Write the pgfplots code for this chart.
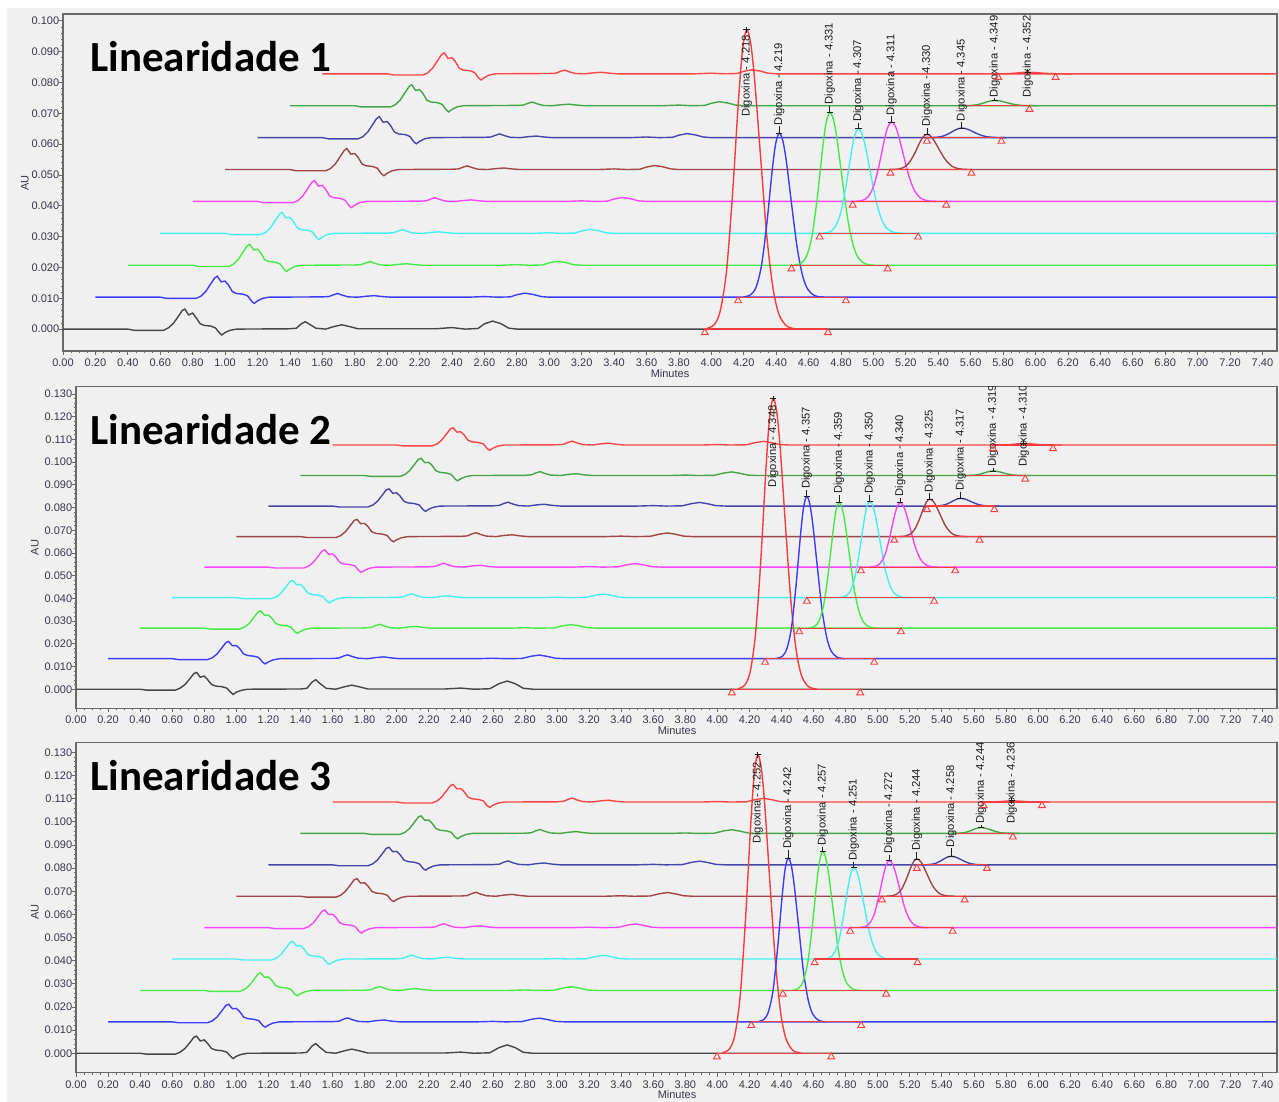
\documentclass[border=0pt]{standalone}
\usepackage{pgfplots}
\pgfplotsset{compat=1.18}
\usepackage{pgfplotstable}
\usepackage{fontspec}
\setmainfont{Liberation Sans}
\newfontfamily\titlefont{Carlito}
\definecolor{bg}{RGB}{240,240,240}
\definecolor{axc}{RGB}{105,105,105}
\definecolor{tickc}{RGB}{55,55,75}
\definecolor{labc}{RGB}{30,30,30}
\definecolor{c0}{RGB}{70,70,70}
\definecolor{c1}{RGB}{60,60,250}
\definecolor{c2}{RGB}{70,235,70}
\definecolor{c3}{RGB}{70,240,240}
\definecolor{c4}{RGB}{250,70,250}
\definecolor{c5}{RGB}{160,70,70}
\definecolor{c6}{RGB}{70,70,170}
\definecolor{c7}{RGB}{70,165,70}
\definecolor{c8}{RGB}{250,70,70}
\definecolor{cr}{RGB}{250,60,60}
\newcommand\tickfont{\fontsize{5.5}{6}\selectfont}
\newcommand\labfont{\fontsize{5.6}{6}\selectfont}

% baseline shapes (relative time, AU)
\pgfplotstableread{
t b0 b1
0.00 0 0
0.40 0 0
0.44 -0.0004 -0.0004
0.62 -0.0004 -0.0004
0.65 0.0004 0.0003
0.68 0.0018 0.0018
0.71 0.0040 0.0042
0.735 0.0060 0.0062
0.752 0.0065 0.0068
0.775 0.0046 0.0050
0.80 0.0052 0.0052
0.82 0.0038 0.0040
0.845 0.0018 0.0018
0.87 0.0012 0.0012
0.91 0.0010 0.0010
0.94 0.0004 0.0004
0.965 -0.0012 -0.0014
0.98 -0.0019 -0.0020
1.00 -0.0011 -0.0012
1.03 -0.0004 -0.0004
1.07 0 0
1.40 0.0001 0.0001
1.44 0.0003 0.0002
1.47 0.0017 0.0008
1.495 0.0024 0.0012
1.52 0.0016 0.0007
1.56 0.0003 0.0001
1.62 0 0
1.67 0.0008 0.0003
1.72 0.0014 0.0005
1.77 0.0008 0.0002
1.82 0.0001 0
2.30 0.0001 0
2.40 0.0005 0.0002
2.48 0 0
2.56 0.0002 0.0001
2.60 0.0017 0.0008
2.65 0.0026 0.0013
2.70 0.0018 0.0009
2.75 0.0003 0.0002
2.80 0 0
7.50 0 0
}\baseA
\pgfplotstableread{
t b0 b1
0.00 0 0
0.40 0 0
0.44 -0.0004 -0.0004
0.62 -0.0004 -0.0004
0.65 0.0005 0.0004
0.68 0.0021 0.0021
0.71 0.0046 0.0048
0.735 0.0069 0.0071
0.752 0.0074 0.0076
0.775 0.0053 0.0057
0.80 0.0058 0.0058
0.82 0.0043 0.0045
0.845 0.0021 0.0021
0.87 0.0014 0.0014
0.91 0.0011 0.0011
0.94 0.0005 0.0005
0.965 -0.0014 -0.0016
0.98 -0.0023 -0.0023
1.00 -0.0013 -0.0014
1.03 -0.0005 -0.0005
1.07 0 0
1.40 0.0001 0.0001
1.44 0.0004 0.0003
1.47 0.0030 0.0012
1.495 0.0042 0.0017
1.52 0.0026 0.0010
1.56 0.0004 0.0002
1.62 0 0
1.67 0.0010 0.0005
1.72 0.0018 0.0008
1.77 0.0010 0.0003
1.82 0.0001 0
2.30 0.0001 0
2.40 0.0005 0.0002
2.48 0 0
2.58 0.0002 0.0001
2.64 0.0025 0.0011
2.69 0.0036 0.0016
2.74 0.0024 0.0010
2.79 0.0004 0.0002
2.85 0 0
7.50 0 0
}\baseB

% Digoxina peaks: offset from apex (d0 for trace 0, d for others), height above baseline
\pgfplotstableread{
d0 d p0 p1 p2 p3 p4 p5 p6 p7 p8
-0.25 -0.22 0.0001 0.00005 0.00005 0.00003 0.00003 0.00001 0 0 0
-0.20 -0.176 0.00146 0.0008 0.00074 0.00051 0.00039 0.00017 0.00005 0.00003 0.00001
-0.163 -0.143 0.00592 0.00325 0.00303 0.00207 0.00157 0.0007 0.00019 0.0001 0.00003
-0.125 -0.11 0.01855 0.01016 0.00947 0.00647 0.00493 0.00218 0.00059 0.00032 0.0001
-0.088 -0.077 0.04321 0.02367 0.02207 0.01509 0.01148 0.00507 0.00138 0.00076 0.00022
-0.05 -0.044 0.07457 0.04086 0.03809 0.02604 0.01981 0.00876 0.00238 0.00131 0.00038
-0.025 -0.022 0.09089 0.0498 0.04643 0.03173 0.02415 0.01067 0.0029 0.00159 0.00047
0 0 0.0971 0.0532 0.0496 0.0339 0.0258 0.0114 0.0031 0.0017 0.0005
0.025 0.022 0.09263 0.05075 0.04732 0.03234 0.02461 0.01088 0.00296 0.00162 0.00048
0.05 0.044 0.0803 0.044 0.04102 0.02804 0.02134 0.00943 0.00256 0.00141 0.00041
0.088 0.077 0.05438 0.02979 0.02778 0.01898 0.01445 0.00638 0.00174 0.00095 0.00028
0.125 0.11 0.02971 0.01628 0.01518 0.01037 0.00789 0.00349 0.00095 0.00052 0.00015
0.163 0.143 0.01311 0.00718 0.0067 0.00458 0.00348 0.00154 0.00042 0.00023 0.00007
0.20 0.176 0.00466 0.00255 0.00238 0.00163 0.00124 0.00055 0.00015 0.00008 0.00002
0.25 0.22 0.00087 0.00048 0.00045 0.00031 0.00023 0.0001 0.00003 0.00002 0
0.313 0.275 0 0 0 0 0 0 0 0 0
}\pkA
\pgfplotstableread{
d0 d p0 p1 p2 p3 p4 p5 p6 p7 p8
-0.22 -0.19 0.00013 0.00007 0.00006 0.00004 0.00003 0.00002 0 0 0
-0.176 -0.152 0.00192 0.00107 0.00083 0.00064 0.00043 0.00025 0.00005 0.00003 0.00001
-0.143 -0.124 0.00781 0.00436 0.00337 0.00259 0.00173 0.00101 0.00021 0.00012 0.00004
-0.11 -0.095 0.02445 0.01366 0.01056 0.00812 0.00542 0.00315 0.00065 0.00038 0.00013
-0.077 -0.067 0.05696 0.03182 0.02461 0.01891 0.01264 0.00734 0.00151 0.00089 0.00031
-0.044 -0.038 0.0983 0.05491 0.04247 0.03264 0.02181 0.01267 0.00261 0.00154 0.00054
-0.022 -0.019 0.11981 0.06692 0.05176 0.03978 0.02658 0.01544 0.00318 0.00187 0.00066
0 0 0.128 0.0715 0.0553 0.0425 0.0284 0.0165 0.0034 0.002 0.0007
0.022 0.019 0.12211 0.06821 0.05276 0.04055 0.02709 0.01574 0.00324 0.00191 0.00067
0.044 0.038 0.10586 0.05913 0.04573 0.03515 0.02349 0.01365 0.00281 0.00165 0.00058
0.077 0.067 0.07168 0.04004 0.03097 0.0238 0.0159 0.00924 0.0019 0.00112 0.00039
0.11 0.095 0.03917 0.02188 0.01692 0.01301 0.00869 0.00505 0.00104 0.00061 0.00021
0.143 0.124 0.01728 0.00965 0.00747 0.00574 0.00383 0.00223 0.00046 0.00027 0.00009
0.176 0.152 0.00614 0.00343 0.00265 0.00204 0.00136 0.00079 0.00016 0.0001 0.00003
0.22 0.19 0.00115 0.00064 0.0005 0.00038 0.00026 0.00015 0.00003 0.00002 0.00001
0.275 0.238 0 0 0 0 0 0 0 0 0
}\pkB
\pgfplotstableread{
d0 d p0 p1 p2 p3 p4 p5 p6 p7 p8
-0.22 -0.19 0.00013 0.00007 0.00006 0.00004 0.00003 0.00002 0 0 0
-0.176 -0.152 0.00194 0.00106 0.0009 0.00059 0.00044 0.00024 0.00006 0.00004 0.00001
-0.143 -0.124 0.00787 0.00432 0.00366 0.00241 0.00177 0.00098 0.00023 0.00015 0.00003
-0.11 -0.095 0.02464 0.01352 0.01146 0.00754 0.00554 0.00308 0.00071 0.00048 0.0001
-0.077 -0.067 0.05741 0.03151 0.0267 0.01758 0.01291 0.00716 0.00165 0.00111 0.00022
-0.044 -0.038 0.09907 0.05437 0.04608 0.03034 0.02227 0.01236 0.00284 0.00192 0.00038
-0.022 -0.019 0.12074 0.06627 0.05616 0.03697 0.02714 0.01507 0.00346 0.00234 0.00047
0 0 0.129 0.0708 0.06 0.0395 0.029 0.0161 0.0037 0.0025 0.0005
0.022 0.019 0.12307 0.06754 0.05724 0.03768 0.02767 0.01536 0.00353 0.00239 0.00048
0.044 0.038 0.10668 0.05855 0.04962 0.03267 0.02398 0.01331 0.00306 0.00207 0.00041
0.077 0.067 0.07224 0.03965 0.0336 0.02212 0.01624 0.00902 0.00207 0.0014 0.00028
0.11 0.095 0.03947 0.02166 0.01836 0.01209 0.00887 0.00493 0.00113 0.00077 0.00015
0.143 0.124 0.01742 0.00956 0.0081 0.00533 0.00392 0.00217 0.0005 0.00034 0.00007
0.176 0.152 0.00619 0.0034 0.00288 0.0019 0.00139 0.00077 0.00018 0.00012 0.00002
0.22 0.19 0.00116 0.00064 0.00054 0.00036 0.00026 0.00014 0.00003 0.00002 0
0.275 0.238 0 0 0 0 0 0 0 0 0
}\pkC

\pgfplotsset{
  tr/.style={line width=0.7pt},
  tri/.style={cr, only marks, mark=triangle, mark size=2pt,
    mark options={yshift=-1.8pt, line width=0.45pt, draw=cr}},
  chrom/.style={
    scale only axis, anchor=south west,
    xmin=0, xmax=7.49,
    xtick={0,0.2,...,7.41},
    minor x tick num=3, minor y tick num=4,
    tick align=outside, tick pos=left,
    major tick length=2pt, minor tick length=1.1pt,
    tick style={axc, line width=0.4pt},
    axis line style={draw=axc, line width=0.7pt},
    every tick label/.append style={font=\tickfont, text=tickc},
    /pgf/number format/assume math mode=true,
    xticklabel style={yshift=1.6pt, /pgf/number format/fixed, /pgf/number format/fixed zerofill, /pgf/number format/precision=2},
    yticklabel style={xshift=3.6pt, /pgf/number format/fixed, /pgf/number format/fixed zerofill, /pgf/number format/precision=3},
    scaled ticks=false,
  }
}
\newcommand\bl[4]{\addplot[#2,tr] table[x expr=\thisrow{t}+#3,y expr=\thisrow{b1}+#4]{#1};}
\newcommand\pk[6]{\addplot[#2,tr,smooth] table[x expr=\thisrow{#5}+#3,y expr=\thisrow{#6}+#4]{#1};}
\newcommand\il[3]{\addplot[cr,line width=0.6pt] coordinates {(#2,#1) (#3,#1)};}
\newcommand\plab[4]{%
  \draw[labc,line width=0.4pt] (axis cs:#1,#2) -- (axis cs:#1,#3);
  \draw[labc,line width=0.4pt] ([xshift=-1.6pt]axis cs:#1,#2) -- ([xshift=1.6pt]axis cs:#1,#2);
  \node[rotate=90,anchor=west,inner sep=0.4pt,font=\labfont,text=labc] at (axis cs:#1,#3) {Digoxina - #4};}
\newcommand\plabb[4]{%
  \draw[labc,line width=0.4pt] ([xshift=-1.6pt]axis cs:#1,#2) -- ([xshift=1.6pt]axis cs:#1,#2);
  \draw[labc,line width=0.4pt] ([yshift=-1.4pt]axis cs:#1,#2) -- ([yshift=1.4pt]axis cs:#1,#2);
  \node[rotate=90,anchor=west,inner sep=0.4pt,font=\labfont,text=labc] at (axis cs:#1,#3) {Digoxina - #4};}

\begin{document}
\begin{tikzpicture}
\useasboundingbox (0,0) rectangle (639.5pt,551pt);
\fill[white] (0,0) rectangle (639.5pt,551pt);
\fill[bg] (3.5pt,0) rectangle (639.5pt,547pt);

% ---------------- Panel 1
\begin{axis}[chrom, at={(31.5pt,375.5pt)}, width=607pt, height=168.5pt,
  ymin=-0.0071, ymax=0.1022,
  ytick={0,0.01,0.02,0.03,0.04,0.05,0.06,0.07,0.08,0.09,0.1}]
\addplot[c0,tr] table[x=t,y=b0]{\baseA};
\bl{\baseA}{c1}{0.2}{0.01035}
\bl{\baseA}{c2}{0.4}{0.0207}
\bl{\baseA}{c3}{0.6}{0.03105}
\bl{\baseA}{c4}{0.8}{0.0414}
\bl{\baseA}{c5}{1.0}{0.05175}
\bl{\baseA}{c6}{1.2}{0.0621}
\bl{\baseA}{c7}{1.4}{0.07245}
\bl{\baseA}{c8}{1.6}{0.0828}
\pk{\pkA}{cr}{4.218}{0}{d0}{p0}
\pk{\pkA}{c1}{4.419}{0.01035}{d}{p1}
\pk{\pkA}{c2}{4.731}{0.0207}{d}{p2}
\pk{\pkA}{c3}{4.907}{0.03105}{d}{p3}
\pk{\pkA}{c4}{5.111}{0.0414}{d}{p4}
\pk{\pkA}{c5}{5.330}{0.05175}{d}{p5}
\pk{\pkA}{c6}{5.545}{0.0621}{d}{p6}
\pk{\pkA}{c7}{5.749}{0.07245}{d}{p7}
\pk{\pkA}{c8}{5.952}{0.0828}{d}{p8}
\il{0}{3.96}{4.72}
\il{0.01035}{4.165}{4.83}
\il{0.0207}{4.494}{5.088}
\il{0.03105}{4.668}{5.276}
\il{0.0414}{4.872}{5.449}
\il{0.05175}{5.105}{5.605}
\il{0.0621}{5.33}{5.79}
\il{0.07245}{5.577}{5.963}
\il{0.0828}{5.77}{6.124}
\addplot[tri] coordinates {(3.96,0) (4.72,0) (4.165,0.01035) (4.83,0.01035)
  (4.494,0.0207) (5.088,0.0207) (4.668,0.03105) (5.276,0.03105)
  (4.872,0.0414) (5.449,0.0414) (5.105,0.05175) (5.605,0.05175)
  (5.33,0.0621) (5.79,0.0621) (5.963,0.07245) (5.77,0.0828) (6.124,0.0828)};
\plabb{4.218}{0.0971}{0.0685}{4.218}
\plab{4.419}{0.0636}{0.0658}{4.219}
\plab{4.731}{0.0703}{0.0725}{4.331}
\plab{4.907}{0.06495}{0.0669}{4.307}
\plab{5.111}{0.0672}{0.069}{4.311}
\plab{5.330}{0.06315}{0.0653}{4.330}
\plab{5.545}{0.0652}{0.0671}{4.345}
\plab{5.749}{0.07415}{0.0748}{4.349}
\plabb{5.952}{0.0833}{0.0748}{4.352}
\end{axis}

% ---------------- Panel 2
\begin{axis}[chrom, at={(38pt,196.85pt)}, width=600.5pt, height=160.8pt,
  ymin=-0.0084, ymax=0.1332,
  ytick={0,0.01,0.02,0.03,0.04,0.05,0.06,0.07,0.08,0.09,0.1,0.11,0.12,0.13}]
\addplot[c0,tr] table[x=t,y=b0]{\baseB};
\bl{\baseB}{c1}{0.2}{0.01344}
\bl{\baseB}{c2}{0.4}{0.02688}
\bl{\baseB}{c3}{0.6}{0.04032}
\bl{\baseB}{c4}{0.8}{0.05376}
\bl{\baseB}{c5}{1.0}{0.0672}
\bl{\baseB}{c6}{1.2}{0.08064}
\bl{\baseB}{c7}{1.4}{0.09408}
\bl{\baseB}{c8}{1.6}{0.10752}
\pk{\pkB}{cr}{4.348}{0}{d0}{p0}
\pk{\pkB}{c1}{4.557}{0.01344}{d}{p1}
\pk{\pkB}{c2}{4.759}{0.02688}{d}{p2}
\pk{\pkB}{c3}{4.950}{0.04032}{d}{p3}
\pk{\pkB}{c4}{5.140}{0.05376}{d}{p4}
\pk{\pkB}{c5}{5.325}{0.0672}{d}{p5}
\pk{\pkB}{c6}{5.517}{0.08064}{d}{p6}
\pk{\pkB}{c7}{5.719}{0.09408}{d}{p7}
\pk{\pkB}{c8}{5.910}{0.10752}{d}{p8}
\il{0}{4.090}{4.891}
\il{0.01344}{4.298}{4.978}
\il{0.02688}{4.510}{5.145}
\il{0.04032}{4.558}{5.352}
\il{0.05376}{4.895}{5.483}
\il{0.0672}{5.103}{5.635}
\il{0.08064}{5.307}{5.727}
\il{0.09408}{5.556}{5.920}
\il{0.10752}{5.719}{6.093}
\addplot[tri] coordinates {(4.090,0) (4.891,0) (4.298,0.01344) (4.978,0.01344)
  (4.510,0.02688) (5.145,0.02688) (4.558,0.04032) (5.352,0.04032)
  (4.895,0.05376) (5.483,0.05376) (5.103,0.0672) (5.635,0.0672)
  (5.307,0.08064) (5.727,0.08064) (5.920,0.09408) (5.719,0.10752) (6.093,0.10752)};
\plabb{4.348}{0.128}{0.0885}{4.348}
\plab{4.557}{0.08494}{0.0877}{4.357}
\plab{4.759}{0.08218}{0.0855}{4.359}
\plab{4.950}{0.08282}{0.0855}{4.350}
\plab{5.140}{0.08216}{0.0844}{4.340}
\plab{5.325}{0.0837}{0.0863}{4.325}
\plab{5.517}{0.08404}{0.0870}{4.317}
\plab{5.719}{0.09608}{0.0975}{4.319}
\plabb{5.910}{0.10822}{0.0975}{4.310}
\end{axis}

% ---------------- Panel 3
\begin{axis}[chrom, at={(38pt,14.65pt)}, width=600.5pt, height=165pt,
  ymin=-0.0084, ymax=0.1342,
  ytick={0,0.01,0.02,0.03,0.04,0.05,0.06,0.07,0.08,0.09,0.1,0.11,0.12,0.13}]
\addplot[c0,tr] table[x=t,y=b0]{\baseB};
\bl{\baseB}{c1}{0.2}{0.01357}
\bl{\baseB}{c2}{0.4}{0.02714}
\bl{\baseB}{c3}{0.6}{0.04071}
\bl{\baseB}{c4}{0.8}{0.05428}
\bl{\baseB}{c5}{1.0}{0.06785}
\bl{\baseB}{c6}{1.2}{0.08142}
\bl{\baseB}{c7}{1.4}{0.09499}
\bl{\baseB}{c8}{1.6}{0.10856}
\pk{\pkC}{cr}{4.252}{0}{d0}{p0}
\pk{\pkC}{c1}{4.442}{0.01357}{d}{p1}
\pk{\pkC}{c2}{4.657}{0.02714}{d}{p2}
\pk{\pkC}{c3}{4.851}{0.04071}{d}{p3}
\pk{\pkC}{c4}{5.072}{0.05428}{d}{p4}
\pk{\pkC}{c5}{5.244}{0.06785}{d}{p5}
\pk{\pkC}{c6}{5.458}{0.08142}{d}{p6}
\pk{\pkC}{c7}{5.644}{0.09499}{d}{p7}
\pk{\pkC}{c8}{5.836}{0.10856}{d}{p8}
\il{0}{3.997}{4.710}
\il{0.01357}{4.211}{4.897}
\il{0.02714}{4.408}{5.053}
\il{0.04071}{4.606}{5.248}
\il{0.05428}{4.828}{5.467}
\il{0.06785}{5.026}{5.542}
\il{0.08142}{5.244}{5.681}
\il{0.09499}{5.494}{5.843}
\il{0.10856}{5.660}{6.024}
\addplot[tri] coordinates {(3.997,0) (4.710,0) (4.211,0.01357) (4.897,0.01357)
  (4.408,0.02714) (5.053,0.02714) (4.606,0.04071) (5.248,0.04071)
  (4.828,0.05428) (5.467,0.05428) (5.026,0.06785) (5.542,0.06785)
  (5.244,0.08142) (5.681,0.08142) (5.843,0.09499) (5.660,0.10856) (6.024,0.10856)};
\plabb{4.252}{0.129}{0.0900}{4.252}
\plab{4.442}{0.08437}{0.0878}{4.242}
\plab{4.657}{0.08714}{0.0892}{4.257}
\plab{4.851}{0.08021}{0.0828}{4.251}
\plab{5.072}{0.08328}{0.0857}{4.272}
\plab{5.244}{0.08395}{0.0871}{4.244}
\plab{5.458}{0.08512}{0.0886}{4.258}
\plab{5.644}{0.09749}{0.0986}{4.244}
\plabb{5.836}{0.10906}{0.0986}{4.236}
\end{axis}

% titles and axis names
\node[anchor=base west,inner sep=0,font={\titlefont\bfseries\fontsize{21.5}{24}\selectfont}] at (45pt,515.15pt) {Linearidade 1};
\node[anchor=base west,inner sep=0,font={\titlefont\bfseries\fontsize{21.5}{24}\selectfont}] at (45pt,328.5pt) {Linearidade 2};
\node[anchor=base west,inner sep=0,font={\titlefont\bfseries\fontsize{21.5}{24}\selectfont}] at (45pt,155.65pt) {Linearidade 3};
\node[rotate=90,font=\tickfont,text=tickc] at (12.5pt,459.5pt) {AU};
\node[rotate=90,font=\tickfont,text=tickc] at (17.5pt,277.25pt) {AU};
\node[rotate=90,font=\tickfont,text=tickc] at (17.5pt,95pt) {AU};
\node[font=\tickfont,text=tickc] at (335pt,364pt) {Minutes};
\node[font=\tickfont,text=tickc] at (338.5pt,185.5pt) {Minutes};
\node[font=\tickfont,text=tickc] at (338.5pt,3.6pt) {Minutes};
\end{tikzpicture}
\end{document}
